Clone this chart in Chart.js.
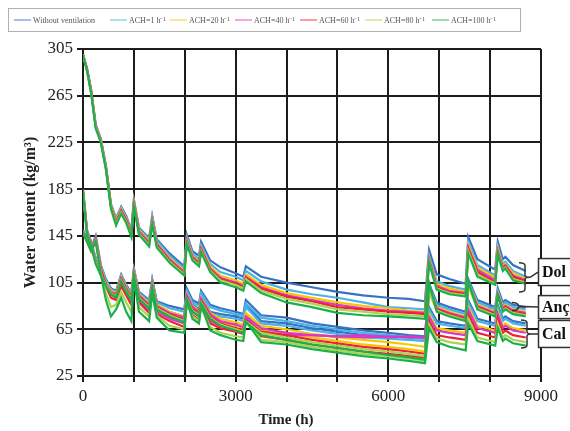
<!DOCTYPE html>
<html>
<head>
<meta charset="utf-8">
<script src="https://cdn.jsdelivr.net/npm/chart.js@4/dist/chart.umd.min.js"></script>
<style>
  html, body { margin: 0; padding: 0; background: #fff; }
</style>
</head>
<body>
<canvas id="chart" width="570" height="431"></canvas>
<script>
// time axis (h), shared by every curve
var timeHours = [
  0, 80, 160, 250, 350, 450, 550, 650, 750, 850, 950, 1000,
  1100, 1300, 1360, 1450, 1700, 1990, 2040, 2150, 2280, 2320, 2500, 2700,
  3000, 3150, 3200, 3500, 4000, 4500, 5000, 5500, 6000, 6400, 6720,
  6800, 6950, 7200, 7520, 7570, 7750, 8100, 8150, 8250, 8300, 8450, 8700
];

var seriesNames = ["Without ventilation", "ACH=1 h\u207B\u00B9", "ACH=20 h\u207B\u00B9", "ACH=40 h\u207B\u00B9",
                   "ACH=60 h\u207B\u00B9", "ACH=80 h\u207B\u00B9", "ACH=100 h\u207B\u00B9"];
var groupLabels = ["Dol", "An\u00E7", "Cal"];

// water content (kg/m3) - Dol
var dolNoVent = [300, 288, 270, 240, 228, 205, 172, 160, 170, 162, 150, 176,
  152, 143, 162, 142, 130, 119, 146, 132, 128, 140, 124, 118,
  113, 110, 119, 110, 105, 101, 97, 94, 92, 91, 89,
  133, 112, 108, 104, 144, 125, 116, 140, 125, 127, 120, 115];
var dolAch1 = [300, 288, 270, 240, 228, 205, 172, 159, 169, 161, 149, 175,
  151, 142, 161, 141, 128, 117, 144, 130, 125, 137, 121, 114,
  110, 107, 115, 106, 99, 95, 92, 88, 84, 83, 82,
  128, 106, 102, 99, 140, 120, 111, 136, 121, 123, 115, 110];
var dolAch20 = [300, 287, 269, 239, 227, 204, 171, 158, 168, 160, 148, 174,
  150, 140, 159, 139, 126, 115, 142, 128, 123, 135, 119, 111,
  107, 104, 112, 103, 96, 92, 88, 85, 83, 81, 80,
  126, 104, 100, 97, 137, 118, 109, 134, 119, 121, 113, 108];
var dolAch40 = [300, 287, 269, 239, 227, 204, 170, 157, 167, 159, 147, 173,
  149, 139, 158, 138, 125, 114, 141, 127, 122, 134, 117, 109,
  105, 102, 110, 101, 94, 90, 86, 83, 81, 80, 79,
  125, 102, 98, 96, 135, 116, 107, 132, 118, 120, 111, 107];
var dolAch60 = [300, 287, 268, 238, 226, 203, 170, 156, 166, 158, 146, 172,
  148, 138, 157, 137, 124, 113, 140, 126, 121, 133, 116, 108,
  104, 101, 109, 100, 93, 89, 84, 82, 80, 79, 78,
  124, 101, 97, 95, 134, 114, 105, 131, 117, 119, 110, 106];
var dolAch80 = [300, 286, 268, 238, 226, 203, 169, 155, 165, 157, 145, 171,
  147, 137, 156, 136, 123, 112, 139, 125, 120, 132, 115, 107,
  103, 100, 108, 98, 91, 87, 82, 80, 78, 77, 76,
  123, 100, 96, 94, 132, 112, 104, 130, 116, 118, 108, 105];
var dolAch100 = [300, 286, 267, 237, 225, 202, 168, 154, 164, 156, 144, 170,
  146, 136, 155, 135, 122, 111, 138, 124, 119, 131, 114, 105,
  101, 98, 106, 96, 88, 84, 79, 77, 76, 75, 74,
  122, 99, 95, 93, 130, 110, 103, 129, 115, 117, 107, 104];

// water content (kg/m3) - Anç
var ancNoVent = [185, 150, 140, 126, 116, 107, 100, 98, 112, 103, 96, 117,
  97, 90, 108, 89, 85, 82, 100, 90, 87, 98, 86, 83,
  80, 78, 90, 77, 75, 70, 67, 64, 62, 60, 59,
  104, 88, 84, 80, 108, 90, 84, 100, 88, 90, 86, 84];
var ancAch1 = [183, 149, 139, 125, 115, 106, 99, 97, 111, 102, 95, 116,
  96, 89, 107, 88, 83, 80, 98, 88, 85, 96, 84, 81,
  78, 76, 87, 75, 72, 68, 65, 62, 60, 58, 57,
  102, 86, 82, 78, 106, 88, 82, 98, 86, 88, 84, 82];
var ancAch20 = [183, 148, 138, 124, 114, 105, 98, 96, 110, 101, 94, 115,
  95, 87, 105, 86, 80, 76, 95, 85, 81, 92, 79, 74,
  71, 69, 79, 68, 65, 61, 58, 56, 54, 52, 50,
  100, 84, 80, 76, 105, 86, 80, 96, 84, 86, 82, 80];
var ancAch40 = [183, 148, 137, 123, 113, 104, 97, 95, 109, 100, 93, 114,
  94, 86, 104, 85, 79, 75, 94, 84, 80, 91, 78, 72,
  69, 67, 76, 66, 62, 60, 59, 58, 59, 58, 58,
  99, 83, 79, 75, 104, 85, 79, 95, 83, 85, 81, 79];
var ancAch60 = [183, 147, 137, 122, 112, 103, 96, 94, 108, 99, 92, 113,
  93, 85, 103, 84, 78, 73, 92, 82, 78, 89, 76, 70,
  66, 64, 73, 63, 60, 56, 53, 50, 48, 46, 44,
  98, 82, 78, 74, 103, 84, 78, 94, 82, 84, 80, 78];
var ancAch80 = [182, 147, 136, 122, 112, 103, 96, 93, 107, 98, 91, 112,
  92, 84, 102, 83, 77, 72, 91, 81, 77, 88, 75, 69,
  65, 63, 72, 62, 58, 54, 51, 48, 46, 44, 42,
  97, 81, 77, 73, 102, 83, 77, 93, 81, 83, 79, 77];
var ancAch100 = [182, 146, 136, 121, 111, 102, 95, 92, 106, 97, 90, 111,
  91, 83, 101, 82, 76, 71, 90, 80, 76, 87, 74, 68,
  64, 62, 71, 60, 56, 52, 49, 46, 43, 41, 39,
  105, 80, 76, 72, 106, 82, 76, 94, 80, 82, 78, 76];

// water content (kg/m3) - Cal
var calNoVent = [150, 142, 135, 145, 120, 108, 100, 96, 108, 100, 92, 114,
  94, 86, 104, 85, 80, 76, 95, 86, 82, 93, 80, 78,
  76, 74, 86, 72, 70, 66, 63, 60, 59, 58, 57,
  84, 72, 70, 68, 90, 74, 70, 86, 74, 76, 72, 70];
var calAch1 = [149, 141, 134, 144, 119, 107, 99, 95, 107, 99, 91, 113,
  93, 85, 103, 84, 78, 74, 93, 84, 80, 91, 78, 76,
  74, 72, 84, 70, 68, 64, 61, 58, 57, 56, 55,
  82, 70, 68, 66, 88, 72, 68, 84, 72, 74, 70, 68];
var calAch20 = [149, 140, 133, 143, 118, 105, 97, 93, 105, 97, 89, 111,
  91, 82, 100, 81, 75, 71, 90, 81, 77, 88, 74, 71,
  68, 66, 78, 64, 62, 58, 55, 52, 50, 48, 46,
  78, 66, 64, 62, 84, 68, 64, 80, 68, 70, 66, 64];
var calAch40 = [149, 140, 133, 143, 117, 104, 95, 92, 104, 96, 88, 110,
  90, 81, 99, 80, 74, 70, 89, 80, 76, 87, 72, 68,
  65, 63, 75, 62, 60, 60, 59, 60, 58, 59, 58,
  76, 64, 62, 60, 82, 66, 62, 78, 66, 68, 64, 62];
var calAch60 = [148, 140, 132, 142, 116, 102, 92, 90, 102, 94, 86, 109,
  88, 79, 98, 78, 72, 67, 87, 77, 73, 84, 70, 66,
  63, 61, 72, 59, 56, 52, 49, 46, 44, 42, 41,
  72, 60, 58, 56, 78, 62, 58, 74, 62, 64, 60, 58];
var calAch80 = [148, 140, 132, 141, 114, 96, 84, 86, 97, 88, 80, 108,
  84, 76, 97, 77, 68, 65, 88, 76, 72, 85, 67, 62,
  59, 58, 72, 56, 54, 50, 47, 44, 42, 40, 38,
  69, 57, 54, 52, 74, 58, 54, 70, 58, 60, 56, 54];
var calAch100 = [148, 140, 132, 140, 112, 90, 76, 82, 92, 80, 72, 108,
  80, 72, 96, 75, 64, 62, 90, 74, 70, 86, 64, 60,
  56, 55, 72, 54, 52, 48, 45, 42, 40, 38, 36,
  66, 54, 50, 47, 70, 55, 51, 66, 55, 57, 53, 51];

var xTicks = [0, 3000, 6000, 9000];
var yTicks = [25, 65, 105, 145, 185, 225, 265, 305];

var lineColours = ["#3673c4", "#49b3e8", "#f7c600", "#d83ac8", "#f0203a", "#a6d64a", "#1fae4c"];
var SERIF = "'Liberation Serif', 'Times New Roman', serif";

var groups = [
  [dolNoVent, dolAch1, dolAch20, dolAch40, dolAch60, dolAch80, dolAch100],
  [ancNoVent, ancAch1, ancAch20, ancAch40, ancAch60, ancAch80, ancAch100],
  [calNoVent, calAch1, calAch20, calAch40, calAch60, calAch80, calAch100]
];

var datasets = [];
groups.forEach(function(group, g) {
  group.forEach(function(values, i) {
    datasets.push({
      label: seriesNames[i],
      data: timeHours.map(function(t, k) { return {x: t, y: values[k]}; }),
      borderColor: lineColours[i],
      backgroundColor: lineColours[i],
      borderWidth: 2.2,
      pointRadius: 0,
      tension: 0,
      order: 6 - i
    });
  });
});

// legend box along the top, drawn by hand to match the boxed Excel legend
var legendPlugin = {
  id: "boxLegend",
  afterDraw: function(chart) {
    var ctx = chart.ctx;
    var starts = [14, 110, 170, 235, 300, 365, 432];
    ctx.save();
    ctx.strokeStyle = "#b0b0b0";
    ctx.lineWidth = 1;
    ctx.strokeRect(8.5, 8.5, 512, 23);
    ctx.font = "8px " + SERIF;
    ctx.fillStyle = "#555";
    ctx.textBaseline = "middle";
    seriesNames.forEach(function(name, i) {
      ctx.strokeStyle = lineColours[i];
      ctx.globalAlpha = 0.6;
      ctx.lineWidth = 1.5;
      ctx.beginPath();
      ctx.moveTo(starts[i], 20);
      ctx.lineTo(starts[i] + 17, 20);
      ctx.stroke();
      ctx.globalAlpha = 1;
      ctx.fillText(name, starts[i] + 19, 20.5);
    });
    ctx.restore();
  }
};

// curly brackets, boxed material names and the x title
var labelPlugin = {
  id: "groupLabels",
  afterDraw: function(chart) {
    var ctx = chart.ctx;
    var y = chart.scales.y;
    var marks = [
      {text: groupLabels[0], top: 122, bottom: 97, box: 114, bx: 519},
      {text: groupLabels[1], top: 88, bottom: 81, box: 84, bx: 512},
      {text: groupLabels[2], top: 73, bottom: 49, box: 61, bx: 521}
    ];
    ctx.save();
    marks.forEach(function(m) {
      var y1 = y.getPixelForValue(m.top), y2 = y.getPixelForValue(m.bottom);
      var yc = y.getPixelForValue(m.box);
      var ym = (y1 + y2) / 2;
      var x0 = m.bx, x1 = m.bx + 6, x2 = m.bx + 11;
      ctx.strokeStyle = "#333";
      ctx.lineWidth = 1.5;
      ctx.beginPath();
      ctx.moveTo(x0, y1);
      ctx.quadraticCurveTo(x1, y1, x1, y1 + 3);
      ctx.lineTo(x1, ym - 2);
      ctx.quadraticCurveTo(x1, ym, x2, ym);
      ctx.quadraticCurveTo(x1, ym, x1, ym + 2);
      ctx.lineTo(x1, y2 - 3);
      ctx.quadraticCurveTo(x1, y2, x0, y2);
      ctx.moveTo(x2, ym);
      ctx.lineTo(538, yc);
      ctx.stroke();
      var h = m.text === groupLabels[1] ? 23 : 27;
      ctx.fillStyle = "#fff";
      ctx.fillRect(538, yc - h / 2, 40, h);
      ctx.strokeRect(538.5, yc - h / 2, 40, h);
      ctx.fillStyle = "#111";
      ctx.font = "bold 16px " + SERIF;
      ctx.textBaseline = "middle";
      ctx.fillText(m.text, 542, yc + 1);
    });
    // x axis title sits left of the plot centre in the original
    ctx.font = "bold 15px " + SERIF;
    ctx.fillStyle = "#222";
    ctx.textAlign = "center";
    ctx.textBaseline = "middle";
    ctx.fillText("Time (h)", 286, 420);
    ctx.restore();
  }
};

new Chart(document.getElementById("chart"), {
  type: "line",
  data: { datasets: datasets },
  plugins: [legendPlugin, labelPlugin],
  options: {
    responsive: false,
    animation: false,
    devicePixelRatio: 1,
    layout: { padding: { top: 49, right: 29, left: 0, bottom: 0 } },
    plugins: { legend: { display: false }, tooltip: { enabled: false } },
    scales: {
      x: {
        type: "linear",
        min: 0, max: 9000,
        afterFit: function(s) { s.height = 55; },
        afterBuildTicks: function(s) {
          s.ticks = [];
          for (var v = 0; v <= 9000; v += 1000) s.ticks.push({value: v});
        },
        ticks: {
          callback: function(v) { return xTicks.indexOf(v) >= 0 ? String(v) : ""; },
          font: { family: SERIF, size: 17 }, color: "#222", padding: 4, maxRotation: 0
        },
        grid: { color: "#1c1c1c", lineWidth: 2, tickLength: 6 },
        border: { color: "#1c1c1c", width: 2 }
      },
      y: {
        min: 25, max: 305,
        afterFit: function(s) { s.width = 83; },
        afterBuildTicks: function(s) { s.ticks = yTicks.map(function(v) { return {value: v}; }); },
        ticks: { font: { family: SERIF, size: 17 }, color: "#222", padding: 4 },
        grid: { color: "#1c1c1c", lineWidth: 2, tickLength: 6 },
        border: { color: "#1c1c1c", width: 2 },
        title: { display: true, text: "Water content (kg/m\u00B3)", font: { family: SERIF, size: 16, weight: "bold" }, color: "#222", padding: { top: 21, bottom: 0 } }
      }
    }
  }
});
</script>
</body>
</html>
